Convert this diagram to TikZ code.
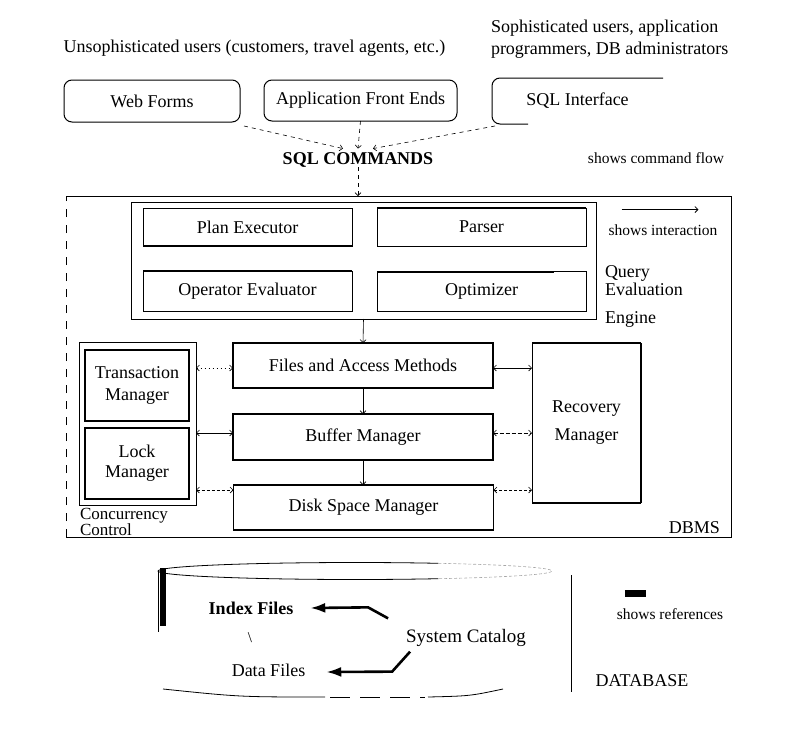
\documentclass[tikz,border=0pt]{standalone}
\usepackage{fontspec}
\setmainfont{Liberation Serif}
\usetikzlibrary{arrows.meta,calc}
\begin{document}
\begin{tikzpicture}[x=1pt,y=-1pt,
  every node/.style={font=\fontsize{18}{21}\selectfont, inner sep=0pt, outer sep=0pt},
  rbox/.style={draw, rounded corners=8pt, line width=1pt},
  ibox/.style={draw, line width=0.7pt, minimum width=209pt},
  mbox/.style={draw, line width=1.6pt, minimum width=104pt, minimum height=71pt, align=center},
  pbox/.style={draw, line width=1.2pt, minimum width=260pt},
  cmd/.style={line width=0.6pt, dash pattern=on 4pt off 4pt, -{Straight Barb[length=3pt,width=6pt]}},
  flow/.style={line width=0.6pt, -{Straight Barb[length=3pt,width=6pt]}},
  dbl/.style={line width=0.6pt, {Straight Barb[length=3pt,width=6pt]}-{Straight Barb[length=3pt,width=6pt]}},
  refarr/.style={line width=2.6pt, -{Latex[length=15pt,width=10pt]}},
  small/.style={font=\fontsize{15.5}{18}\selectfont}]
\useasboundingbox (0,0) rectangle (807,737);

% ---------- users ----------
\node (unsoph) at (254.5,48) {Unsophisticated users (customers, travel agents, etc.)};
\node[anchor=west, align=left, font=\fontsize{18}{22}\selectfont] (soph) at (491,39)
  {Sophisticated users, application\\programmers, DB administrators};

% ---------- front ends ----------
\node[rbox, minimum width=176pt, minimum height=42pt] (wf) at (152,101) {Web Forms};
\node[rbox, minimum width=193pt, minimum height=41pt] (afe) at (360.5,100.5) {Application Front Ends};
\node[minimum width=171pt, minimum height=46pt] (sqli) at (577.5,101) {SQL Interface};
\draw[line width=1pt, rounded corners=8pt] (sqli.north east) -- (sqli.north west) -- (sqli.south west) -- ($(sqli.south west)+(36,0)$);

\node[font=\bfseries\fontsize{18}{21}\selectfont] (sqlc) at (358,160) {SQL COMMANDS};
\node[small] (cflow) at (656,158) {shows command flow};

% ---------- DBMS frame ----------
\node[minimum width=665pt, minimum height=341pt] (dbms) at (398.5,366.5) {};
\draw[line width=0.5pt] (dbms.north west) -- ($(dbms.north west)+(265,0)$);
\draw[line width=0.8pt] ($(dbms.north west)+(265,0)$) -- (dbms.north east) -- (dbms.south east) -- (dbms.south west);
\draw[line width=0.5pt, dash pattern=on 8pt off 8pt] (dbms.south west) -- (dbms.north west);
\node[anchor=base east] (dbmsl) at ($(dbms.south east)+(-11,-4)$) {DBMS};

\draw[cmd] ($(wf.south east)+(4,4)$) -- ($(sqlc.north)+(-15,-4)$);
\draw[cmd] (afe.south) -- ($(sqlc.north)+(0,-4)$);
\draw[cmd] ($(sqli.south west)+(3,2)$) -- ($(sqlc.north)+(15,-4)$);
\draw[cmd] (sqlc.south) -- (sqlc.south |- dbms.north);

% ---------- query evaluation engine ----------
\node[draw, line width=0.5pt, minimum width=465pt, minimum height=117pt] (qee) at (363.5,260.5) {};
\node[ibox, minimum height=38pt] (pe) at (247.5,227) {Plan Executor};
\node[ibox, minimum height=38pt] (parser) at (481.5,227) {Parser};
\node[ibox, minimum height=40pt] (oe) at (247.5,291) {Operator Evaluator};
\node[ibox, minimum height=40pt] (opt) at (481.5,291.5) {Optimizer};
\draw[line width=2pt] (pe.south west) -- (pe.south east);
\draw[line width=2pt] (oe.north west) -- (oe.north east);
\draw[line width=2pt] (opt.north west) -- ($(opt.north east)+(-32,0)$);
\draw[line width=1.4pt] (parser.north west) -- (parser.north east);

\node[anchor=base west] (qel1) at (605,277) {Query};
\node[anchor=base west] (qel2) at (605,295) {Evaluation};
\node[anchor=base west] (qel3) at (605,323) {Engine};

\node[small] (sint) at (663,230) {shows interaction};
\coordinate (ia) at ($(sint.north west)+(13,-15)$);
\coordinate (ib) at ($(sint.north east)+(-19,-15)$);
\draw[flow, line width=0.8pt] (ia) -- (ib);

% ---------- lower DBMS ----------
\node[draw, line width=0.5pt, minimum width=117pt, minimum height=163pt] (cc) at (137.5,423.5) {};
\node[mbox, font=\fontsize{18}{22}\selectfont] (tm) at (137,385.5) {Transaction\\Manager};
\node[mbox, font=\fontsize{18}{20}\selectfont] (lm) at (137,463.5) {Lock\\Manager};
\node[anchor=base west, font=\fontsize{17}{20}\selectfont] (ccl1) at (80,519.5) {Concurrency};
\node[anchor=base west, font=\fontsize{17}{20}\selectfont] (ccl2) at (80,535.5) {Control};

\node[pbox, minimum height=45pt] (fam) at (363,365.5) {Files and Access Methods};
\node[pbox, minimum height=46pt] (bm) at (363,437) {Buffer Manager};
\node[pbox, minimum height=45pt] (dsm) at (363.5,507.5) {Disk Space Manager};

\node[minimum width=109pt, minimum height=160pt, align=center, font=\fontsize{18}{28}\selectfont] (rm) at (586.5,423) {Recovery\\Manager};
\draw[line width=1.5pt] (rm.north west) -- (rm.north east);
\draw[line width=2.2pt] (rm.north east) -- (rm.south east);
\draw[line width=1.5pt] (rm.south east) -- (rm.south west);
\draw[line width=0.9pt] (rm.south west) -- (rm.north west);

\draw[flow] (qee.south) -- (fam.north);
\draw[flow] (fam.south) -- (bm.north);
\draw[flow] (bm.south) -- (bm.south |- dsm.north);

\coordinate (h1) at (0,368);
\coordinate (h2) at (0,433);
\coordinate (h3) at (0,490);
\draw[dbl, dash pattern=on 1pt off 3pt] (cc.east |- h1) -- (fam.west |- h1);
\draw[dbl] (cc.east |- h2) -- (bm.west |- h2);
\draw[dbl, dash pattern=on 3pt off 2pt] (cc.east |- h3) -- (dsm.west |- h3);
\draw[dbl] (fam.east |- h1) -- (rm.west |- h1);
\draw[dbl, dash pattern=on 4pt off 2pt] (bm.east |- h2) -- (rm.west |- h2);
\draw[dbl, dash pattern=on 3pt off 2pt] (dsm.east |- h3) -- (rm.west |- h3);

% ---------- database ----------
\coordinate (cylc) at (355,571);
\draw[line width=0.8pt] ($(cylc)+(65:197 and 8.5)$) arc[start angle=65, end angle=295, x radius=197, y radius=8.5];
\draw[line width=0.6pt, gray!70, dash pattern=on 3pt off 2pt] ($(cylc)+(-65:197 and 8.5)$) arc[start angle=-65, end angle=65, x radius=197, y radius=8.5];
\draw[line width=0.6pt] ($(cylc)+(-197,0)$) -- ++(0,61);
\draw[line width=5.5pt] (163,568) -- (163,626);
\draw[line width=0.8pt] (163,689) .. controls (240,697) .. (325,697);
\draw[line width=0.8pt, dash pattern=on 20pt off 10pt] (330,697) -- (425,697);
\draw[line width=0.8pt] (428,697) .. controls (470,696) .. (503,689);
\draw[line width=0.8pt] (571,575) -- (571,692);

\node[font=\bfseries\fontsize{18}{21}\selectfont] (idx) at (251,608) {Index Files};
\node[font=\fontsize{15}{18}\selectfont] (bsl) at (250,638) {\textbackslash};
\node[font=\fontsize{19}{22}\selectfont] (sysc) at (466,638) {System Catalog};
\node (dataf) at (268.5,670) {Data Files};

\draw[refarr] ($(sysc.north west)+(-18,-11)$) -- ++(-20,-11) -- ($(idx.east)+(17,0)$);
\draw[refarr] ($(sysc.south west)+(4,5)$) -- ++(-18,20) -- ($(dataf.east)+(21,2)$);

\node[small] (sref) at (670,614) {shows references};
\coordinate (ra) at ($(sref.north west)+(8,-15)$);
\coordinate (rb) at ($(sref.north west)+(29,-15)$);
\draw[line width=7pt] (ra) -- (rb);
\node (dbase) at (642,681) {DATABASE};
\end{tikzpicture}
\end{document}
